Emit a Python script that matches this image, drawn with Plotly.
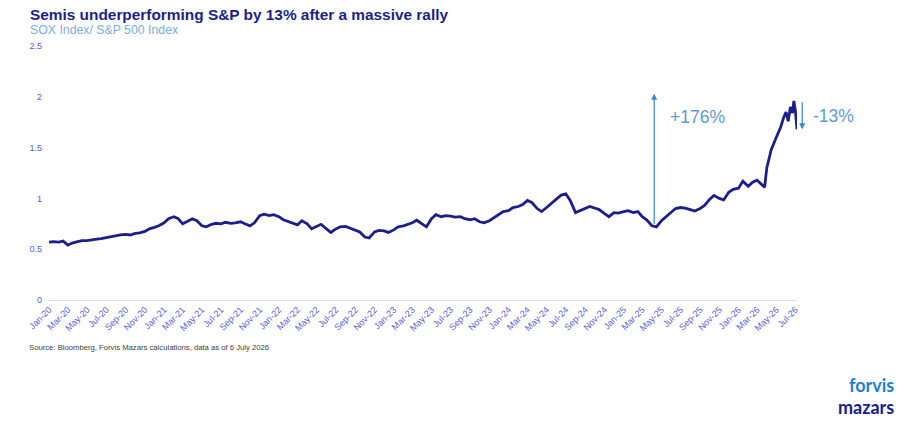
import plotly.graph_objects as go

# ---- data (SOX Index / S&P 500 Index ratio) ----
dates = [
    "2020-01-01","2020-01-15","2020-02-01","2020-02-15","2020-03-01","2020-03-15","2020-04-01","2020-04-15",
    "2020-05-01","2020-05-15","2020-06-01","2020-06-15","2020-07-01","2020-07-15","2020-08-01","2020-08-15",
    "2020-09-01","2020-09-15","2020-10-01","2020-10-15","2020-11-01","2020-11-15","2020-12-01","2020-12-15",
    "2021-01-01","2021-01-15","2021-02-01","2021-02-15","2021-03-01","2021-03-15","2021-04-01","2021-04-15",
    "2021-05-01","2021-05-15","2021-06-01","2021-06-15","2021-07-01","2021-07-15","2021-08-01","2021-08-15",
    "2021-09-01","2021-09-15","2021-10-01","2021-10-15","2021-11-01","2021-11-15","2021-12-01","2021-12-15",
    "2022-01-01","2022-01-15","2022-02-01","2022-02-15","2022-03-01","2022-03-15","2022-04-01","2022-04-15",
    "2022-05-01","2022-05-15","2022-06-01","2022-06-15","2022-07-01","2022-07-15","2022-08-01","2022-08-15",
    "2022-09-01","2022-09-15","2022-10-01","2022-10-15","2022-11-01","2022-11-15","2022-12-01","2022-12-15",
    "2023-01-01","2023-01-15","2023-02-01","2023-02-15","2023-03-01","2023-03-15","2023-04-01","2023-04-15",
    "2023-05-01","2023-05-15","2023-06-01","2023-06-15","2023-07-01","2023-07-15","2023-08-01","2023-08-15",
    "2023-09-01","2023-09-15","2023-10-01","2023-10-15","2023-11-01","2023-11-15","2023-12-01","2023-12-15",
    "2024-01-01","2024-01-15","2024-02-01","2024-02-15","2024-03-01","2024-03-15","2024-04-01","2024-04-15",
    "2024-05-01","2024-05-15","2024-06-01","2024-06-15","2024-07-01","2024-07-15","2024-08-01","2024-08-15",
    "2024-09-01","2024-09-15","2024-10-01","2024-10-15","2024-11-01","2024-11-15","2024-12-01","2024-12-15",
    "2025-01-01","2025-01-15","2025-02-01","2025-02-15","2025-03-01","2025-03-15","2025-04-01","2025-04-15",
    "2025-05-01","2025-05-15","2025-06-01","2025-06-15","2025-07-01","2025-07-15","2025-08-01","2025-08-15",
    "2025-09-01","2025-09-15","2025-10-01","2025-10-15","2025-11-01","2025-11-15","2025-12-01","2025-12-15",
    "2026-01-01","2026-01-15","2026-02-01","2026-02-15","2026-03-01","2026-03-15","2026-03-25","2026-04-01",
    "2026-04-15","2026-05-01","2026-05-15","2026-05-25","2026-06-01","2026-06-08","2026-06-15","2026-06-22",
    "2026-06-26","2026-07-01","2026-07-06",
]
ratio = [
    0.57,0.575,0.57,0.58,0.54,0.56,0.575,0.585,
    0.585,0.595,0.60,0.605,0.615,0.625,0.635,0.64,
    0.645,0.64,0.655,0.66,0.675,0.70,0.715,0.73,
    0.76,0.80,0.82,0.80,0.75,0.77,0.80,0.78,
    0.73,0.72,0.745,0.755,0.75,0.765,0.755,0.76,
    0.77,0.75,0.73,0.76,0.83,0.845,0.83,0.84,
    0.82,0.79,0.77,0.76,0.74,0.78,0.75,0.70,
    0.72,0.745,0.70,0.665,0.70,0.72,0.725,0.71,
    0.69,0.67,0.62,0.61,0.67,0.685,0.68,0.665,
    0.69,0.72,0.73,0.745,0.76,0.785,0.75,0.72,
    0.80,0.84,0.82,0.83,0.825,0.815,0.82,0.80,
    0.79,0.80,0.77,0.76,0.78,0.81,0.84,0.87,
    0.88,0.91,0.92,0.94,0.98,0.96,0.90,0.87,
    0.91,0.95,0.99,1.03,1.045,0.98,0.86,0.88,
    0.90,0.92,0.905,0.89,0.85,0.82,0.86,0.855,
    0.87,0.88,0.86,0.87,0.82,0.79,0.73,0.72,
    0.78,0.82,0.86,0.90,0.91,0.905,0.89,0.875,
    0.90,0.93,0.99,1.03,1.00,0.985,1.06,1.09,
    1.10,1.17,1.12,1.16,1.18,1.14,1.11,1.30,
    1.48,1.60,1.70,1.80,1.85,1.76,1.90,1.84,
    1.96,1.86,1.68,
]
y_ticks = [0, 0.5, 1, 1.5, 2, 2.5]
rally_start_date = "2025-04-08"
rally_low, rally_high = 0.73, 2.03
drop_high, drop_low = 1.96, 1.68
rally_label = "+176%"
drop_label = "-13%"

NAVY = "#1b1f8c"
TICK = "#5c5cd8"
ARROW = "#2a8ad8"
LABEL = "#5b9bd5"

fig = go.Figure()
fig.add_trace(go.Scatter(
    x=dates, y=ratio, mode="lines",
    line=dict(color=NAVY, width=2.8),
    hoverinfo="x+y", showlegend=False,
))

fig.update_layout(
    width=902, height=423,
    margin=dict(l=49, r=105, t=46, b=123),
    paper_bgcolor="white", plot_bgcolor="white",
    font=dict(family="Liberation Sans, Arial, sans-serif"),
    xaxis=dict(
        type="date", range=["2020-01-01", "2026-07-06"],
        tick0="2020-01-01", dtick="M2", tickformat="%b-%y",
        tickangle=-45, tickfont=dict(size=9, color=TICK),
        showgrid=False, zeroline=False,
        showline=True, linecolor="#dcdcf4", linewidth=1,
        ticks="", ticklen=0,
    ),
    yaxis=dict(
        range=[0, 2.5], tickvals=y_ticks, ticktext=[f"{v:g}" for v in y_ticks],
        tickfont=dict(size=9, color=TICK),
        showgrid=False, zeroline=False, showline=False, ticks="",
        ticklabelstandoff=6,
    ),
)

# Rally arrow (up)
fig.add_annotation(
    x=rally_start_date, y=rally_high, ax=rally_start_date, ay=rally_low,
    xref="x", yref="y", axref="x", ayref="y",
    text="", showarrow=True, arrowhead=2, arrowsize=1, arrowwidth=1.2,
    arrowcolor=ARROW,
)
# Drop arrow (down) just right of the plot end
fig.add_annotation(
    x=1.007, y=drop_low, xref="paper", yref="y",
    ax=0, ay=-((drop_high - drop_low) / 2.5 * 254),
    text="", showarrow=True, arrowhead=2, arrowsize=1, arrowwidth=1.2,
    arrowcolor=ARROW,
)
fig.add_annotation(
    x=(668 - 49) / 748, y=1.80, xref="paper", yref="y", xanchor="left", yanchor="middle",
    text=rally_label, showarrow=False, font=dict(size=17.5, color=LABEL),
)
fig.add_annotation(
    x=(811 - 49) / 748, y=1.81, xref="paper", yref="y", xanchor="left", yanchor="middle",
    text=drop_label, showarrow=False, font=dict(size=17.5, color=LABEL),
)

# Titles
fig.add_annotation(
    x=(28 - 49) / 748, y=(300 - 14) / 254, xref="paper", yref="paper",
    xanchor="left", yanchor="middle", showarrow=False,
    text="<b>Semis underperforming S&P by 13% after a massive rally</b>",
    font=dict(size=15.4, color=NAVY, family="Liberation Sans, Arial, sans-serif"),
)
fig.add_annotation(
    x=(28 - 49) / 748, y=(300 - 30) / 254, xref="paper", yref="paper",
    xanchor="left", yanchor="middle", showarrow=False,
    text="SOX Index/ S&P 500 Index",
    font=dict(size=12.3, color="#7aaee0", family="Liberation Sans, Arial, sans-serif"),
)
fig.add_annotation(
    x=(27 - 49) / 748, y=(300 - 347) / 254, xref="paper", yref="paper",
    xanchor="left", yanchor="middle", showarrow=False,
    text="Source: Bloomberg, Forvis Mazars calculations, data as of 6 July 2026",
    font=dict(size=7.7, color="#404040", family="Liberation Sans, Arial, sans-serif"),
)
# Logo text
fig.add_annotation(
    x=(896 - 49) / 748, y=(300 - 385) / 254, xref="paper", yref="paper",
    xanchor="right", yanchor="middle", showarrow=False,
    text="<b>forvis</b>",
    font=dict(size=18, color="#1d80d8", family="Lato, Arial, sans-serif"),
)
fig.add_annotation(
    x=(896 - 49) / 748, y=(300 - 407) / 254, xref="paper", yref="paper",
    xanchor="right", yanchor="middle", showarrow=False,
    text="<b>mazars</b>",
    font=dict(size=18, color="#171c8f", family="Lato, Arial, sans-serif"),
)

fig.write_html("out.html")
